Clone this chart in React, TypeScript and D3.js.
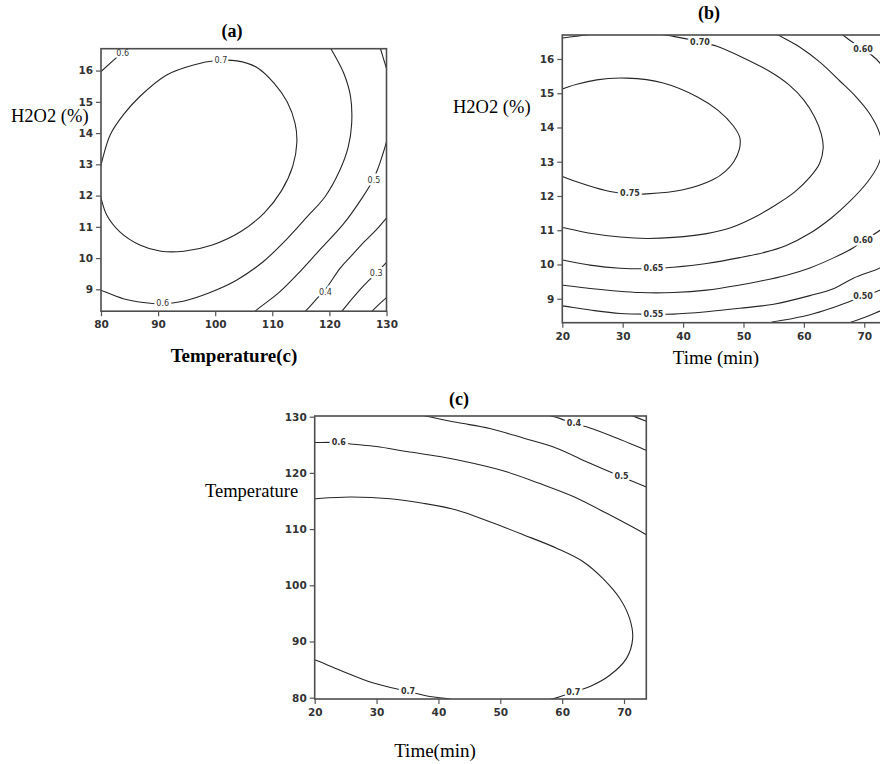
import React, { useEffect, useRef } from 'react';
import * as d3 from 'd3';

type Pt = [number, number];
type Contour = { level: string; pts: Pt[] };
type Label = { text: string; at: Pt };

// tick values
const tempTicksA = [80, 90, 100, 110, 120, 130];
const h2o2Ticks = [9, 10, 11, 12, 13, 14, 15, 16];
const timeTicks = [20, 30, 40, 50, 60, 70];
const tempTicksC = [80, 90, 100, 110, 120, 130];

// (a) Temperature (x) vs H2O2 (y)
const contoursA: Contour[] = [
  { level: '0.7', pts: [[79.3, 12.45], [80.1, 13.05], [81.6, 13.94], [83.9, 14.58], [86.8, 15.17], [91.5, 15.86], [96.2, 16.18], [100.3, 16.32], [103.8, 16.31], [107.3, 16.1], [110.3, 15.6], [112.6, 15.0], [114, 14.3], [114.3, 13.7], [113.6, 12.95], [111.6, 12.15], [108.6, 11.45], [104.5, 10.85], [99.5, 10.42], [94.5, 10.22], [90.5, 10.22], [86.8, 10.42], [83.3, 10.84], [81, 11.38], [80.1, 11.85], [79.3, 12.45]] },
  { level: '0.6', pts: [[79.3, 15.85], [80, 15.97], [83.6, 16.56], [86, 16.95]] },
  { level: '0.6', pts: [[79.3, 9.02], [80, 8.97], [83.9, 8.7], [87.4, 8.58], [90.6, 8.54], [94.4, 8.62], [99.1, 8.9], [103.8, 9.3], [108.5, 9.9], [112.5, 10.6], [116, 11.3], [119.3, 11.98], [121.8, 12.8], [123.3, 13.56], [123.9, 14.3], [123.7, 15.17], [122.5, 15.92], [120.2, 16.72], [119.5, 16.95]] },
  { level: '0.5', pts: [[128.5, 16.9], [128.9, 16.72], [129.6, 16.3], [130.1, 16.0], [131.2, 14.9], [130.1, 13.8], [129.2, 13.24], [128.4, 12.82], [127.5, 12.45], [126, 12.0], [122.5, 11.1], [118, 10.2], [114.5, 9.5], [111.2, 8.9], [107, 8.3], [106.5, 8.2]] },
  { level: '0.4', pts: [[115.5, 8.25], [115.8, 8.3], [117.8, 8.7], [119.3, 9.0], [121.9, 9.68], [124, 10.1], [126, 10.5], [128.2, 10.9], [130.1, 11.3], [130.6, 11.4]] },
  { level: '0.3', pts: [[121.8, 8.2], [122.2, 8.3], [125.4, 9.0], [127, 9.3], [128.4, 9.55], [130.1, 9.88], [130.6, 9.98]] },
  { level: '0.2', pts: [[127.2, 8.2], [127.5, 8.3], [130.1, 8.76], [130.6, 8.85]] },
];
const labelsA: Label[] = [
  { text: '0.6', at: [83.8, 16.55] },
  { text: '0.7', at: [101, 16.32] },
  { text: '0.6', at: [90.8, 8.54] },
  { text: '0.5', at: [127.8, 12.48] },
  { text: '0.4', at: [119.3, 8.9] },
  { text: '0.3', at: [128.2, 9.5] },
];

// (b) Time (x) vs H2O2 (y)
const contoursB: Contour[] = [
  { level: '0.75', pts: [[19, 15.0], [20, 15.12], [25.7, 15.39], [30.7, 15.44], [36.7, 15.3], [42.3, 14.9], [45.8, 14.5], [48.3, 14.05], [49.4, 13.7], [49.3, 13.35], [48.4, 13.0], [47, 12.72], [45, 12.48], [40, 12.18], [34, 12.06], [31.2, 12.06], [27.9, 12.13], [24, 12.32], [20, 12.57], [19, 12.65]] },
  { level: '0.70', pts: [[19, 16.58], [20, 16.61], [24.6, 16.72], [28, 16.82], [33, 16.8], [38.4, 16.66], [42.8, 16.5], [45.6, 16.37], [49.4, 16.08], [54.5, 15.62], [57.5, 15.25], [60, 14.8], [61.8, 14.3], [62.9, 13.8], [63.2, 13.4], [62.6, 12.95], [61, 12.55], [58.5, 12.12], [55, 11.7], [51.5, 11.35], [48, 11.08], [43.9, 10.9], [38.4, 10.79], [34, 10.76], [29.6, 10.8], [24.6, 10.91], [20, 11.08], [19, 11.1]] },
  { level: '0.65', pts: [[19, 10.16], [20, 10.13], [24.6, 9.98], [29.6, 9.89], [35.1, 9.88], [38.4, 9.92], [43.9, 10.03], [49.4, 10.2], [53.6, 10.36], [57, 10.55], [61, 10.91], [64.5, 11.35], [67.6, 11.84], [70.5, 12.4], [72.3, 12.9], [73, 13.35], [72.5, 13.85], [70.9, 14.4], [68.6, 14.9], [66, 15.35], [62.7, 15.9], [59.3, 16.35], [55.8, 16.7], [55, 16.8]] },
  { level: '0.60', pts: [[65.8, 16.85], [66.5, 16.7], [69.8, 16.28], [71.3, 16.1], [72.6, 15.88], [74.5, 15.4]] },
  { level: '0.60', pts: [[19, 9.42], [20, 9.4], [24.6, 9.3], [32.9, 9.18], [38.4, 9.18], [43.9, 9.25], [49.4, 9.4], [52.7, 9.51], [57, 9.68], [61, 9.9], [65, 10.2], [68.2, 10.49], [69.8, 10.69], [72.6, 11.0], [74.5, 11.3]] },
  { level: '0.55', pts: [[19, 8.81], [20, 8.79], [24.6, 8.67], [29.6, 8.57], [35.1, 8.55], [38.4, 8.55], [43.9, 8.62], [49.4, 8.72], [55, 8.84], [61, 9.09], [65, 9.3], [68.2, 9.6], [72.6, 9.9], [74.5, 10.1]] },
  { level: '0.50', pts: [[54, 8.25], [54.4, 8.3], [57.5, 8.4], [61, 8.53], [64.5, 8.72], [67.6, 8.92], [69.8, 9.06], [72.6, 9.25], [74.5, 9.4]] },
  { level: '0.45', pts: [[67.2, 8.25], [67.6, 8.3], [70, 8.45], [72.6, 8.64], [74.5, 8.78]] },
];
const labelsB: Label[] = [
  { text: '0.70', at: [42.8, 16.47] },
  { text: '0.60', at: [69.8, 16.28] },
  { text: '0.75', at: [31.2, 12.06] },
  { text: '0.65', at: [35.1, 9.88] },
  { text: '0.60', at: [69.8, 10.69] },
  { text: '0.55', at: [35.1, 8.55] },
  { text: '0.50', at: [69.8, 9.06] },
];

// (c) Time (x) vs Temperature (y)
const contoursC: Contour[] = [
  { level: '0.7', pts: [[19, 87.1], [20.1, 86.7], [24.1, 84.9], [29.5, 82.6], [35.1, 81.1], [38.6, 80.2], [41.6, 79.8], [46, 78.9], [50, 78.6], [55, 78.9], [58.5, 79.8], [61.8, 81], [64.5, 82], [67.7, 84], [70.4, 87], [71.4, 90.6], [70.9, 94.1], [69.3, 97.7], [66.6, 101.2], [63.4, 104.2], [59.1, 106.6], [53.7, 109], [48.3, 111.3], [42.9, 113.4], [37.5, 114.6], [32.2, 115.4], [25.7, 115.7], [20.1, 115.4], [19, 115.3]] },
  { level: '0.6', pts: [[19, 125.4], [20, 125.4], [23.9, 125.4], [26.2, 125.1], [30, 124.7], [34.9, 123.8], [40.2, 122.9], [45.6, 121.7], [51, 120.2], [56.4, 118.1], [61.8, 115.8], [67.2, 112.8], [73.6, 109], [74.5, 108.4]] },
  { level: '0.5', pts: [[36, 130.6], [38.1, 130.1], [42.9, 129], [48.3, 127.9], [53.7, 126.2], [59.1, 124.4], [64.5, 121.7], [69.6, 119.3], [73.6, 117.5], [74.5, 117.1]] },
  { level: '0.4', pts: [[56, 130.7], [58.3, 130.1], [59.6, 129.7], [61.9, 128.7], [64.5, 128], [68.8, 126.2], [73.6, 124], [74.5, 123.6]] },
  { level: '0.3', pts: [[70, 130.7], [71.5, 130.1], [73.6, 129.2], [74.5, 128.8]] },
];
const labelsC: Label[] = [
  { text: '0.7', at: [35.1, 81.1] },
  { text: '0.7', at: [61.8, 81.0] },
  { text: '0.6', at: [23.9, 125.4] },
  { text: '0.5', at: [69.6, 119.3] },
  { text: '0.4', at: [61.9, 128.7] },
];

const SERIF = '"Liberation Serif", "Times New Roman", serif';
const SANS = '"DejaVu Sans", Verdana, sans-serif';

const panels = [
  {
    id: 'a', title: '(a)', titleX: 232, titleY: 37,
    xDom: [80, 130], yDom: [8.3, 16.7], left: 101, right: 386.5, top: 48.7, bottom: 311.2,
    xTicks: tempTicksA, yTicks: h2o2Ticks, contours: contoursA, labels: labelsA, labelWeight: 'normal',
    yLabel: 'H2O2 (%)', yLabelX: 11, yLabelY: 122, xLabel: 'Temperature(c)', xLabelX: 234, xLabelY: 362, xLabelBold: true,
  },
  {
    id: 'b', title: '(b)', titleX: 709, titleY: 19,
    xDom: [20, 73.6], yDom: [8.3, 16.7], left: 562.3, right: 886, top: 35, bottom: 322.7,
    xTicks: timeTicks, yTicks: h2o2Ticks, contours: contoursB, labels: labelsB, labelWeight: 'bold',
    yLabel: 'H2O2 (%)', yLabelX: 453, yLabelY: 113, xLabel: 'Time (min)', xLabelX: 716, xLabelY: 364, xLabelBold: false,
  },
  {
    id: 'c', title: '(c)', titleX: 459, titleY: 405,
    xDom: [20, 73.6], yDom: [79.77, 130.12], left: 314.7, right: 646.3, top: 416, bottom: 699,
    xTicks: timeTicks, yTicks: tempTicksC, contours: contoursC, labels: labelsC, labelWeight: 'bold',
    yLabel: 'Temperature', yLabelX: 205, yLabelY: 497, xLabel: 'Time(min)', xLabelX: 435, xLabelY: 757, xLabelBold: false,
  },
];

const App = () => {
  const svgRef = useRef<SVGSVGElement>(null);

  useEffect(() => {
    if (!svgRef.current) return;
    const svg = d3.select(svgRef.current);
    svg.selectAll('*').remove();

    panels.forEach(p => {
      const x = d3.scaleLinear().domain(p.xDom).range([p.left, p.right]);
      const y = d3.scaleLinear().domain(p.yDom).range([p.bottom, p.top]);
      const g = svg.append('g');

      const clipId = `clip-${p.id}`;
      g.append('clipPath').attr('id', clipId).append('rect')
        .attr('x', p.left).attr('y', p.top)
        .attr('width', p.right - p.left).attr('height', p.bottom - p.top);

      const line = d3.line<Pt>()
        .x(d => x(d[0]))
        .y(d => y(d[1]))
        .curve(d3.curveCatmullRom.alpha(0.5));

      // contour lines
      const cg = g.append('g').attr('clip-path', `url(#${clipId})`);
      p.contours.forEach(c => {
        cg.append('path')
          .attr('d', line(c.pts))
          .attr('fill', 'none')
          .attr('stroke', '#262626')
          .attr('stroke-width', 1.1);
      });

      // contour labels, with a white halo cutting the line
      p.labels.forEach(l => {
        g.append('text')
          .attr('x', x(l.at[0]))
          .attr('y', y(l.at[1]))
          .attr('text-anchor', 'middle')
          .attr('dominant-baseline', 'central')
          .attr('font-family', SANS)
          .attr('font-size', 8)
          .attr('font-weight', p.labelWeight)
          .attr('fill', '#333')
          .attr('stroke', '#fff')
          .attr('stroke-width', 5)
          .attr('paint-order', 'stroke')
          .text(l.text);
      });

      // frame
      g.append('rect')
        .attr('x', p.left).attr('y', p.top)
        .attr('width', p.right - p.left).attr('height', p.bottom - p.top)
        .attr('fill', 'none').attr('stroke', '#4d4d4d').attr('stroke-width', 1.6);

      // axes
      const xa = g.append('g')
        .attr('transform', `translate(0,${p.bottom})`)
        .call(d3.axisBottom(x).tickValues(p.xTicks).tickSize(5).tickPadding(4.5).tickFormat(d3.format('d')));
      const ya = g.append('g')
        .attr('transform', `translate(${p.left},0)`)
        .call(d3.axisLeft(y).tickValues(p.yTicks).tickSize(5).tickPadding(3).tickFormat(d3.format('d')));
      [xa, ya].forEach(a => {
        a.select('.domain').remove();
        a.selectAll('line').attr('stroke', '#555').attr('stroke-width', 1.2);
        a.selectAll('text')
          .attr('font-family', SANS)
          .attr('font-size', 10.5)
          .attr('font-weight', 'bold')
          .attr('fill', '#333');
      });

      // titles
      g.append('text')
        .attr('x', p.titleX).attr('y', p.titleY)
        .attr('text-anchor', 'middle')
        .attr('font-family', SERIF).attr('font-size', 18).attr('font-weight', 'bold')
        .attr('fill', '#000')
        .text(p.title);
      g.append('text')
        .attr('x', p.yLabelX).attr('y', p.yLabelY)
        .attr('font-family', SERIF).attr('font-size', 18.5)
        .attr('fill', '#000')
        .text(p.yLabel);
      g.append('text')
        .attr('x', p.xLabelX).attr('y', p.xLabelY)
        .attr('text-anchor', 'middle')
        .attr('font-family', SERIF).attr('font-size', 19)
        .attr('font-weight', p.xLabelBold ? 'bold' : 'normal')
        .attr('fill', '#000')
        .text(p.xLabel);
    });
  }, []);

  return (
    <div style={{ position: 'absolute', left: 0, top: 0, width: 880, height: 764, overflow: 'hidden', background: '#fff' }}>
      <svg ref={svgRef} width={880} height={764} style={{ display: 'block' }} />
    </div>
  );
};

export default App;
